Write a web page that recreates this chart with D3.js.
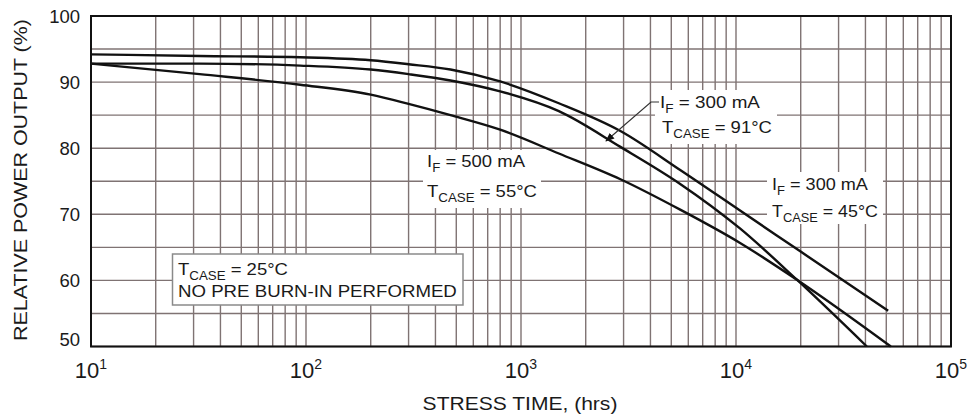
<!DOCTYPE html>
<html><head><meta charset="utf-8">
<script src="https://cdn.jsdelivr.net/npm/d3@7"></script>
<style>
body{margin:0;background:#fff}
svg{display:block}
text{font-family:"Liberation Sans",Arial,Helvetica,sans-serif;fill:#1a1a1a}
</style>
</head><body>
<svg id="c" width="976" height="417"></svg>
<script>
// ---- data ----
const hours45 = [10, 32, 94, 200, 300, 470, 800, 1500, 2900, 5500, 10400, 19900, 51000];
const pct45   = [94.2, 93.95, 93.75, 93.3, 92.7, 91.9, 90.1, 86.8, 82.6, 76.7, 70.6, 64.4, 55.4];

const hours91 = [10, 32, 94, 200, 300, 470, 800, 1500, 2900, 5500, 10400, 19200, 40600];
const pct91   = [92.8, 92.8, 92.5, 91.9, 91.2, 90.25, 88.6, 85.6, 80.2, 74.6, 67.9, 60.1, 50];

const hours500 = [10, 32, 94, 200, 300, 470, 800, 1500, 2900, 5500, 10400, 19200, 52500];
const pct500   = [92.8, 91.2, 89.6, 88.1, 86.7, 85.0, 82.8, 79.2, 75.3, 70.7, 65.7, 60.1, 50];

const yTicks = [50, 60, 70, 80, 90, 100];
const xTicks = [10, 100, 1000, 10000, 100000];
const xTickBase = "10";
const xTickExp = ["1", "2", "3", "4", "5"];
const yTitle = "RELATIVE POWER OUTPUT (%)";
const xTitle = "STRESS TIME, (hrs)";

// ---- scales ----
const svg = d3.select("#c");
const x = d3.scaleLog().domain([10, 1e5]).range([91, 951]);
const y = d3.scaleLinear().domain([50, 100]).range([346.5, 16]);

const gridColor = "#7f7373";

// vertical grid
const vgrid = [];
[10, 100, 1000, 10000].forEach(d => { for (let k = 1; k < 10; k++) vgrid.push(d * k); });
vgrid.push(1e5);
svg.append("g").selectAll("line").data(vgrid).join("line")
  .attr("x1", d => x(d)).attr("x2", d => x(d))
  .attr("y1", y(100)).attr("y2", y(50))
  .attr("stroke", gridColor).attr("stroke-width", 1.4);
// horizontal grid
svg.append("g").selectAll("line").data(d3.range(50, 101, 5)).join("line")
  .attr("x1", x(10)).attr("x2", x(1e5))
  .attr("y1", d => y(d)).attr("y2", d => y(d))
  .attr("stroke", gridColor).attr("stroke-width", 1.4);

// white backgrounds behind annotations
const bgs = [[655, 90, 122, 54], [767, 172, 116, 52], [423, 150, 118, 58]];
svg.append("g").selectAll("rect").data(bgs).join("rect")
  .attr("x", d => d[0]).attr("y", d => d[1]).attr("width", d => d[2]).attr("height", d => d[3])
  .attr("fill", "#fff");

// box
svg.append("rect").attr("x", 172.5).attr("y", 254).attr("width", 290.5).attr("height", 51)
  .attr("fill", "#fff").attr("stroke", "#8a8a8a").attr("stroke-width", 1.5);

// curves
const line = d3.line().x(d => x(d[0])).y(d => y(d[1])).curve(d3.curveMonotoneX);
[[hours45, pct45], [hours91, pct91], [hours500, pct500]].forEach(([h, p]) => {
  svg.append("path").datum(h.map((v, i) => [v, p[i]]))
    .attr("d", line).attr("fill", "none").attr("stroke", "#111")
    .attr("stroke-width", 2.4).attr("stroke-linejoin", "round");
});

// frame
svg.append("rect").attr("x", x(10)).attr("y", y(100))
  .attr("width", x(1e5) - x(10)).attr("height", y(50) - y(100))
  .attr("fill", "none").attr("stroke", "#111").attr("stroke-width", 2);

// y tick labels
svg.append("g").selectAll("text").data(yTicks).join("text")
  .attr("x", 80).attr("y", d => d === 50 ? y(d) - 7 : y(d))
  .attr("text-anchor", "end").attr("dominant-baseline", "central")
  .attr("font-size", 18.5).text(d => d);

// x tick labels
const xt = svg.append("g").selectAll("text").data(xTicks).join("text")
  .attr("x", d => x(d)).attr("y", 378).attr("text-anchor", "middle").attr("font-size", 22);
xt.append("tspan").text(xTickBase);
xt.append("tspan").attr("font-size", 14).attr("dy", -9).text((d, i) => xTickExp[i]);

// helper: label with optional subscripts, fitted to a width
function label(x0, yb, parts, width, size, anchor) {
  const g = svg.append("g");
  const t = g.append("text").attr("x", 0).attr("y", 0).attr("font-size", size)
    .attr("text-anchor", anchor || "start");
  let sub = false;
  parts.forEach(([s, isSub]) => {
    const ts = t.append("tspan").text(s);
    if (isSub && !sub) { ts.attr("font-size", size * 0.72).attr("dy", 5); sub = true; }
    else if (!isSub && sub) { ts.attr("dy", -5); sub = false; }
  });
  const w = t.node().getComputedTextLength();
  g.attr("transform", `translate(${x0},${yb}) scale(${width / w},1)`);
  return g;
}

label(660, 108, [["I"], ["F", true], [" = 300 mA"]], 100, 17);
label(662, 133, [["T"], ["CASE", true], [" = 91°C"]], 110, 17);
label(772, 190, [["I"], ["F", true], [" = 300 mA"]], 96, 17);
label(772, 217, [["T"], ["CASE", true], [" = 45°C"]], 106, 17);
label(427, 167, [["I"], ["F", true], [" = 500 mA"]], 98, 17);
label(427, 197, [["T"], ["CASE", true], [" = 55°C"]], 110, 17);
label(178, 275, [["T"], ["CASE", true], [" = 25°C"]], 110, 17);
label(178, 297, [["NO PRE BURN-IN PERFORMED"]], 279, 17);

// axis titles
(function () {
  const g = svg.append("g");
  const t = g.append("text").attr("font-size", 18.5).attr("text-anchor", "middle").text(xTitle);
  const w = t.node().getComputedTextLength();
  g.attr("transform", `translate(520,410) scale(${195 / w},1)`);
})();
(function () {
  const g = svg.append("g");
  const t = g.append("text").attr("font-size", 19).attr("text-anchor", "middle").text(yTitle);
  const w = t.node().getComputedTextLength();
  g.attr("transform", `translate(27,180) rotate(-90) scale(${322 / w},1)`);
})();

// leader arrow
const defs = svg.append("defs");
defs.append("marker").attr("id", "ah").attr("viewBox", "0 0 10 10").attr("refX", 9).attr("refY", 5)
  .attr("markerWidth", 9).attr("markerHeight", 9).attr("markerUnits", "userSpaceOnUse")
  .attr("orient", "auto")
  .append("path").attr("d", "M0,1 L10,5 L0,9 Z").attr("fill", "#111");
svg.append("path").attr("d", "M659,102 L651,102 L606,141")
  .attr("fill", "none").attr("stroke", "#333").attr("stroke-width", 1.2)
  .attr("marker-end", "url(#ah)");
</script>
</body></html>
